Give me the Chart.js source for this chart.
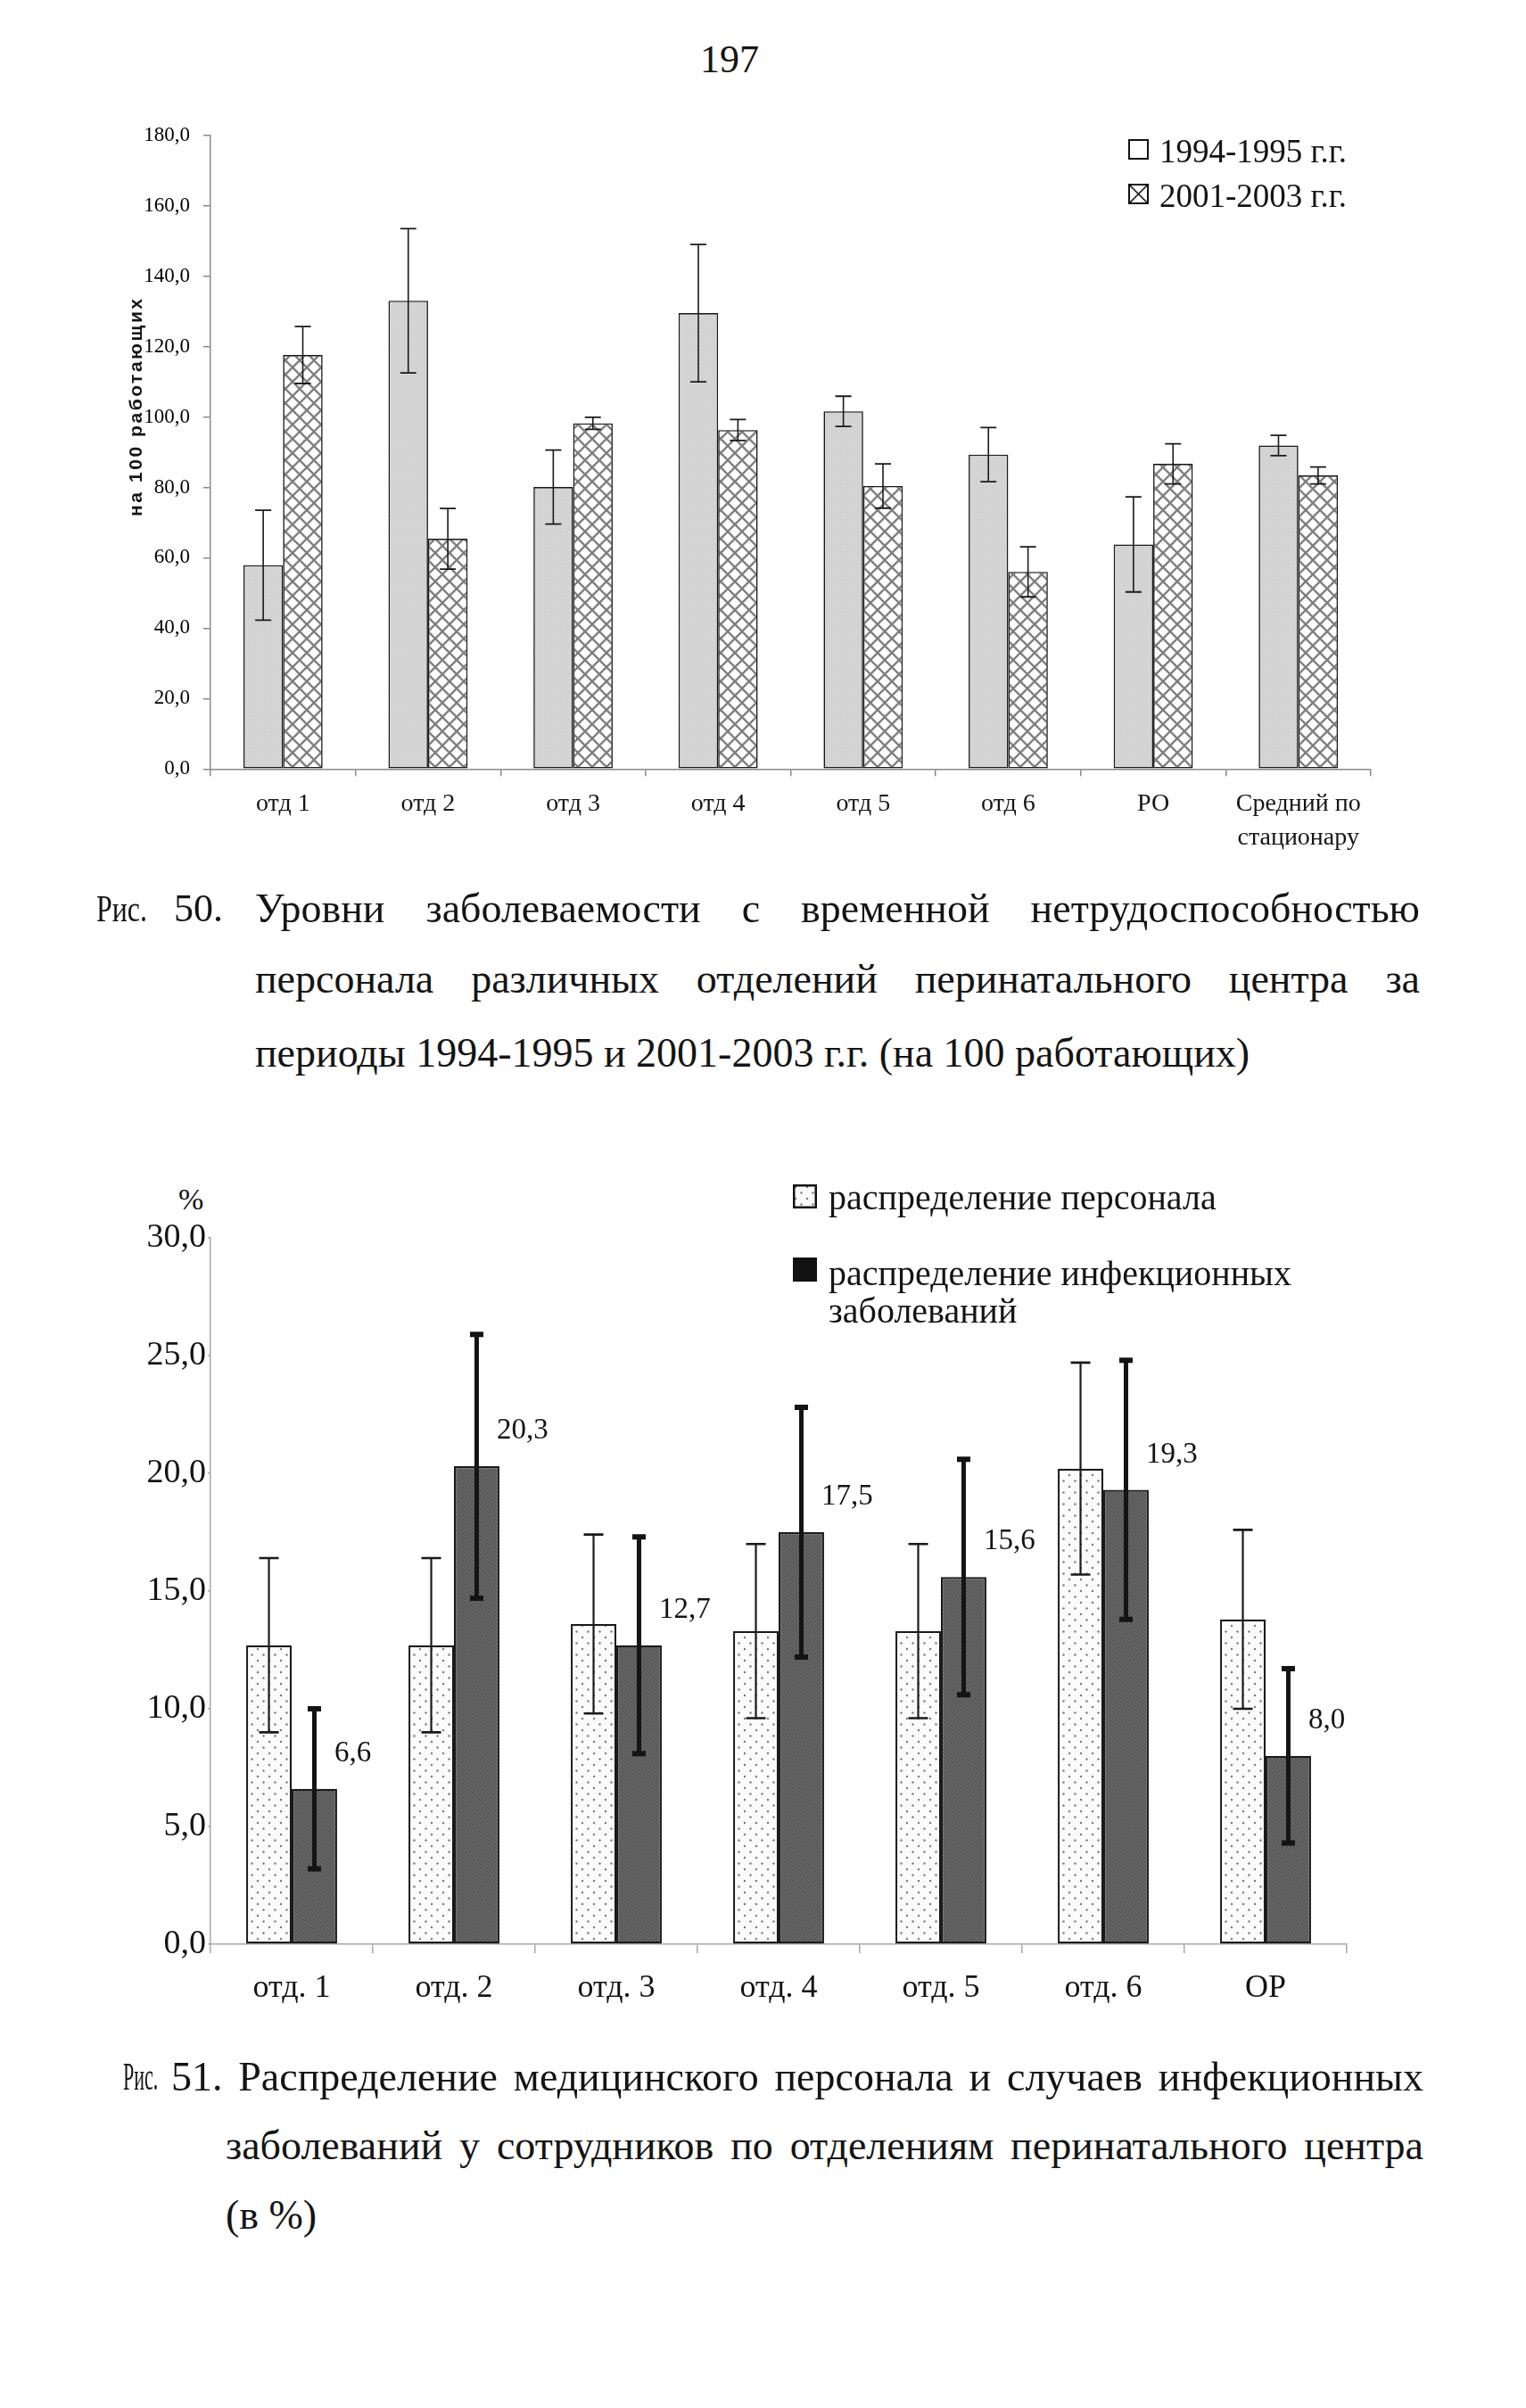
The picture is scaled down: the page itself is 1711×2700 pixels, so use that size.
<!DOCTYPE html>
<html><head><meta charset="utf-8">
<script src="https://cdn.jsdelivr.net/npm/chart.js@4.4.1/dist/chart.umd.min.js"></script>
<style>
body{margin:0;background:#fff;width:1711px;height:2700px;position:relative;overflow:hidden;font-family:"Liberation Serif","Times New Roman",serif;color:#141414}
.abs{position:absolute;white-space:nowrap}
canvas.chart{position:absolute;left:0}
.sw{position:absolute;box-sizing:border-box}
</style></head><body>

<div class="abs" id="pageNo" style="left:0;width:1636px;text-align:center;top:40px;line-height:54px;font-size:44px">197</div>

<canvas class="chart" id="c1" width="1711" height="900" style="top:100px;width:1711px;height:900px"></canvas>
<div id="legend1"></div>

<div class="abs" style="left:108px;top:989px;line-height:60px;font-size:42px;transform:scaleX(0.76);transform-origin:left">Рис.</div>
<div class="abs" style="left:195px;top:989px;line-height:60px;font-size:44px">50.</div>
<div class="abs jl" data-w="1306" style="left:286px;top:989px;line-height:60px;font-size:46px">Уровни заболеваемости с временной нетрудоспособностью</div>
<div class="abs jl" data-w="1306" style="left:286px;top:1068px;line-height:60px;font-size:46px">персонала различных отделений перинатального центра за</div>
<div class="abs" style="left:286px;top:1151px;line-height:60px;font-size:46px">периоды 1994-1995 и 2001-2003 г.г. (на 100 работающих)</div>

<div class="abs" style="left:200px;top:1322px;line-height:46px;font-size:34px">%</div>
<canvas class="chart" id="c2" width="1711" height="1000" style="top:1300px;width:1711px;height:1000px"></canvas>
<div id="legend2"></div>

<div class="abs" style="left:138px;top:2299px;line-height:60px;font-size:44px;transform:scaleX(0.5);transform-origin:left">Рис.</div>
<div class="abs jl" data-w="1404" style="left:192px;top:2299px;line-height:60px;font-size:46px">51. Распределение медицинского персонала и случаев инфекционных</div>
<div class="abs jl" data-w="1343" style="left:253px;top:2376px;line-height:60px;font-size:46px">заболеваний у сотрудников по отделениям перинатального центра</div>
<div class="abs" style="left:253px;top:2454px;line-height:60px;font-size:46px">(в %)</div>

<script>
// ---------- Chart 1 data (Рис. 50) ----------
const categories1 = ['отд 1','отд 2','отд 3','отд 4','отд 5','отд 6','РО',['Средний по','стационару']];
const seriesNames1 = ['1994-1995 г.г.','2001-2003 г.г.'];
const values1994 = [57.9,133.0,80.1,129.5,101.6,89.3,63.8,91.9];
const errors1994 = [15.6,20.5,10.5,19.5,4.3,7.7,13.5,2.9];
const values2001 = [117.6,65.4,98.2,96.3,80.4,56.0,86.7,83.4];
const errors2001 = [8.1,8.6,1.7,3.0,6.3,7.1,5.7,2.4];
const yAxisTitle1 = 'на 100 работающих';
const yMin1 = 0, yMax1 = 180, yStep1 = 20;

// ---------- Chart 2 data (Рис. 51) ----------
const categories2 = ['отд. 1','отд. 2','отд. 3','отд. 4','отд. 5','отд. 6','ОР'];
const seriesNames2 = ['распределение персонала','распределение инфекционных заболеваний'];
const staffValues = [12.7,12.7,13.6,13.3,13.3,20.2,13.8];
const staffErrors = [3.7,3.7,3.8,3.7,3.7,4.5,3.8];
const infectValues = [6.6,20.3,12.7,17.5,15.6,19.3,8.0];
const infectErrors = [3.4,5.6,4.6,5.3,5.0,5.5,3.7];
const yMin2 = 0, yMax2 = 30, yStep2 = 5;

const fmt = v => Number(v).toFixed(1).replace('.', ',');
const SERIF = '"Liberation Serif","Times New Roman",serif';

// ---------- patterns ----------
function tile(size, draw){ const c=document.createElement('canvas'); c.width=c.height=size; draw(c.getContext('2d'), size); return c; }
const tGray = tile(4,(g,s)=>{g.fillStyle='#d5d5d5';g.fillRect(0,0,s,s);g.fillStyle='#c8c8c8';g.fillRect(0,0,1,1);g.fillRect(2,2,1,1);});
const tHatch = tile(16,(g,s)=>{g.fillStyle='#fff';g.fillRect(0,0,s,s);g.strokeStyle='#808080';g.lineWidth=2.4;
  for(const k of [-s,0,s]){g.beginPath();g.moveTo(k,0);g.lineTo(k+s,s);g.stroke();g.beginPath();g.moveTo(k+s,0);g.lineTo(k,s);g.stroke();}});
const tDots = tile(13,(g,s)=>{g.fillStyle='#fbfbfb';g.fillRect(0,0,s,s);g.fillStyle='#7a7a7a';
  g.beginPath();g.arc(3,3,1.2,0,Math.PI*2);g.fill();g.beginPath();g.arc(9.5,9.5,1.2,0,Math.PI*2);g.fill();});
const tDark = tile(4,(g,s)=>{g.fillStyle='#666';g.fillRect(0,0,s,s);g.fillStyle='#4a4a4a';g.fillRect(0,0,1,1);g.fillRect(1,1,1,1);g.fillRect(2,2,1,1);g.fillRect(3,3,1,1);});

// ---------- plugins ----------
const errorBars = {
  id:'errorBars',
  afterDatasetsDraw(chart){
    const ctx=chart.ctx, ys=chart.scales.y;
    chart.data.datasets.forEach((ds,di)=>{
      if(!ds.errors) return;
      const st=ds.errStyle, meta=chart.getDatasetMeta(di);
      ctx.save(); ctx.strokeStyle=st.color; ctx.lineCap='butt';
      meta.data.forEach((bar,i)=>{
        const v=ds.data[i], e=ds.errors[i], x=bar.x;
        const yt=ys.getPixelForValue(v+e), yb=ys.getPixelForValue(v-e);
        ctx.lineWidth=st.width; ctx.beginPath(); ctx.moveTo(x,yt); ctx.lineTo(x,yb); ctx.stroke();
        ctx.lineWidth=st.capWidth; ctx.beginPath();
        ctx.moveTo(x-st.cap/2,yt); ctx.lineTo(x+st.cap/2,yt);
        ctx.moveTo(x-st.cap/2,yb); ctx.lineTo(x+st.cap/2,yb); ctx.stroke();
      });
      ctx.restore();
    });
  }
};
const valueLabels = {
  id:'valueLabels',
  afterDatasetsDraw(chart, args, opts){
    if(!opts || !opts.enabled) return;
    const ctx=chart.ctx, ys=chart.scales.y;
    chart.data.datasets.forEach((ds,di)=>{
      if(!ds.showValues) return;
      const meta=chart.getDatasetMeta(di);
      ctx.save(); ctx.fillStyle='#141414'; ctx.font=opts.font; ctx.textAlign='left'; ctx.textBaseline='middle';
      meta.data.forEach((bar,i)=>{
        const v=ds.data[i];
        ctx.fillText(fmt(v), bar.x + bar.width/2 + opts.dx, ys.getPixelForValue(v + opts.dv));
      });
      ctx.restore();
    });
  }
};
// rotated y-axis title, placed beside the y scale at a given axis value
const yTitle = {
  id:'yTitle',
  afterDraw(chart, args, opts){
    if(!opts || !opts.text) return;
    const ctx=chart.ctx, ys=chart.scales.y;
    ctx.save(); ctx.font=opts.font; ctx.fillStyle='#141414';
    const w=ctx.measureText(opts.text).width, n=opts.text.length;
    if('letterSpacing' in ctx) ctx.letterSpacing=Math.max(0,(opts.width-w)/(n-1))+'px';
    ctx.translate(ys.left+opts.x, ys.getPixelForValue(opts.atValue)); ctx.rotate(-Math.PI/2);
    ctx.textAlign='center'; ctx.textBaseline='middle'; ctx.fillText(opts.text,0,0);
    ctx.restore();
  }
};

// ---------- Chart 1 ----------
const ctx1 = document.getElementById('c1').getContext('2d');
new Chart(ctx1, {
  type:'bar',
  data:{ labels:categories1, datasets:[
    {label:seriesNames1[0], data:values1994, errors:errors1994, backgroundColor:ctx1.createPattern(tGray,'repeat'),
     borderColor:'#1a1a1a', borderWidth:1.6, borderSkipped:false, errStyle:{color:'#1a1a1a',width:1.6,capWidth:1.8,cap:18}},
    {label:seriesNames1[1], data:values2001, errors:errors2001, backgroundColor:ctx1.createPattern(tHatch,'repeat'),
     borderColor:'#1a1a1a', borderWidth:1.6, borderSkipped:false, errStyle:{color:'#1a1a1a',width:1.6,capWidth:1.8,cap:18}}
  ]},
  options:{
    responsive:false, animation:false, devicePixelRatio:1,
    layout:{padding:{top:51.7,right:174,bottom:37.7,left:0}},
    categoryPercentage:0.546, barPercentage:1.0,
    plugins:{legend:{display:false}, tooltip:{enabled:false}, valueLabels:{enabled:false},
      yTitle:{text:yAxisTitle1, font:'bold 21px "Liberation Sans", Arial, sans-serif', width:244, x:153, atValue:103}},
    scales:{
      x:{ grid:{display:true, drawOnChartArea:false, drawTicks:true, tickLength:8, color:'#8a8a8a', lineWidth:1.5, offset:true},
          border:{display:true, color:'#8a8a8a', width:1.5},
          ticks:{color:'#141414', padding:12, maxRotation:0, autoSkip:false, font:{family:SERIF,size:28,lineHeight:1.36}},
          afterFit:s=>{s.height=100;} },
      y:{ min:yMin1, max:yMax1,
          grid:{display:true, drawOnChartArea:false, drawTicks:true, tickLength:8, color:'#8a8a8a', lineWidth:1.5},
          border:{display:true, color:'#8a8a8a', width:1.5},
          ticks:{stepSize:yStep1, color:'#000', padding:15, font:{family:SERIF,size:23}, callback:v=>fmt(v)},
          afterFit:s=>{s.width=236;} }
    }
  },
  plugins:[errorBars, valueLabels, yTitle]
});

// ---------- Chart 2 ----------
const ctx2 = document.getElementById('c2').getContext('2d');
new Chart(ctx2, {
  type:'bar',
  data:{ labels:categories2, datasets:[
    {label:seriesNames2[0], data:staffValues, errors:staffErrors, backgroundColor:ctx2.createPattern(tDots,'repeat'),
     borderColor:'#1a1a1a', borderWidth:2.2, borderSkipped:false, errStyle:{color:'#1a1a1a',width:2.2,capWidth:2.6,cap:22}},
    {label:seriesNames2[1], data:infectValues, errors:infectErrors, showValues:true, backgroundColor:ctx2.createPattern(tDark,'repeat'),
     borderColor:'#1a1a1a', borderWidth:2.2, borderSkipped:false, errStyle:{color:'#141414',width:5,capWidth:6,cap:15}}
  ]},
  options:{
    responsive:false, animation:false, devicePixelRatio:1,
    layout:{padding:{top:88,right:201,bottom:20,left:0}},
    categoryPercentage:0.56, barPercentage:1.0,
    plugins:{legend:{display:false}, tooltip:{enabled:false},
      valueLabels:{enabled:true, font:'33px '+SERIF, dx:-3, dv:1.5}},
    scales:{
      x:{ grid:{display:true, drawOnChartArea:false, drawTicks:true, tickLength:10, color:'#a8a8a8', lineWidth:1.5, offset:true},
          border:{display:true, color:'#a8a8a8', width:1.5},
          ticks:{color:'#141414', padding:18, maxRotation:0, autoSkip:false, font:{family:SERIF,size:36,lineHeight:1.2}},
          afterFit:s=>{s.height=100;} },
      y:{ min:yMin2, max:yMax2,
          grid:{display:true, drawOnChartArea:false, drawTicks:true, tickLength:3, color:'#a8a8a8', lineWidth:1.5},
          border:{display:true, color:'#a8a8a8', width:1.5},
          ticks:{stepSize:yStep2, color:'#141414', padding:2, font:{family:SERIF,size:38}, callback:v=>fmt(v)},
          afterFit:s=>{s.width=236;} }
    }
  },
  plugins:[errorBars, valueLabels]
});

// ---------- legends (HTML) ----------
function swatch(parent, left, top, size, drawFn){
  const c=document.createElement('canvas'); c.width=c.height=size; c.className='sw';
  c.style.left=left+'px'; c.style.top=top+'px'; c.style.width=size+'px'; c.style.height=size+'px';
  drawFn(c.getContext('2d'), size); parent.appendChild(c);
}
function text(parent, left, top, lh, size, html){
  const d=document.createElement('div'); d.className='abs'; d.style.left=left+'px'; d.style.top=top+'px';
  d.style.lineHeight=lh+'px'; d.style.fontSize=size+'px'; d.innerHTML=html; parent.appendChild(d);
}
const L1=document.getElementById('legend1');
swatch(L1,1265,156,23,(g,s)=>{g.fillStyle='#fff';g.fillRect(0,0,s,s);g.strokeStyle='#111';g.lineWidth=2;g.strokeRect(1,1,s-2,s-2);});
text(L1,1300,145,50,37,seriesNames1[0]);
swatch(L1,1265,206,23,(g,s)=>{g.fillStyle='#fff';g.fillRect(0,0,s,s);g.strokeStyle='#111';g.lineWidth=2;g.strokeRect(1,1,s-2,s-2);
  g.lineWidth=1.6;g.beginPath();g.moveTo(2,2);g.lineTo(s-2,s-2);g.moveTo(s-2,2);g.lineTo(2,s-2);g.stroke();});
text(L1,1300,195,50,37,seriesNames1[1]);

const L2=document.getElementById('legend2');
swatch(L2,889,1328,27,(g,s)=>{g.fillStyle=g.createPattern(tDots,'repeat');g.fillRect(0,0,s,s);g.strokeStyle='#111';g.lineWidth=2.5;g.strokeRect(1.25,1.25,s-2.5,s-2.5);});
text(L2,929,1318,50,40,seriesNames2[0]);
swatch(L2,889,1410,27,(g,s)=>{g.fillStyle='#111';g.fillRect(0,0,s,s);});
const words=seriesNames2[1].split(' ');
text(L2,929,1407,42,40,words[0]+' '+words[1]+'<br>'+words.slice(2).join(' '));

// ---------- justify caption lines ----------
document.querySelectorAll('.jl').forEach(el=>{
  const target=+el.dataset.w; const nat=el.getBoundingClientRect().width;
  const spaces=(el.textContent.match(/ /g)||[]).length;
  if(spaces>0) el.style.wordSpacing=((target-nat)/spaces)+'px';
});
</script>
</body></html>
